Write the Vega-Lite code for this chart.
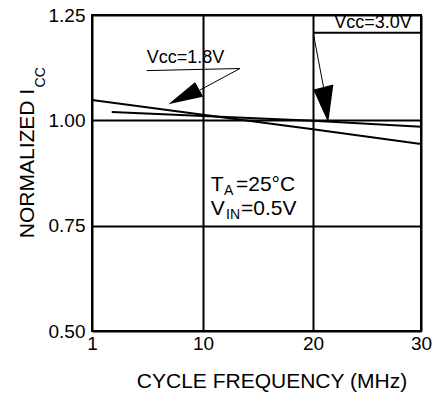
{
  "$schema": "https://vega.github.io/schema/vega-lite/v6.json",
  "width": 329,
  "height": 316,
  "autosize": {"type": "none"},
  "padding": {"left": 92, "top": 15, "right": 16, "bottom": 65},
  "background": "white",
  "config": {
    "font": "Liberation Sans",
    "view": {"stroke": "black", "strokeWidth": 2},
    "axis": {
      "domain": false,
      "ticks": false,
      "grid": true,
      "gridColor": "black",
      "gridWidth": 2,
      "gridOpacity": 1,
      "labelColor": "black",
      "labelFontSize": 19,
      "titleColor": "black",
      "titleFontWeight": "normal"
    }
  },
  "datasets": {
    "curves": [
      {"series": "Vcc=1.8V", "f": 1, "icc": 1.048},
      {"series": "Vcc=1.8V", "f": 10, "icc": 1.013},
      {"series": "Vcc=1.8V", "f": 20, "icc": 0.979},
      {"series": "Vcc=1.8V", "f": 30, "icc": 0.944},
      {"series": "Vcc=3.0V", "f": 2.6, "icc": 1.020},
      {"series": "Vcc=3.0V", "f": 10, "icc": 1.010},
      {"series": "Vcc=3.0V", "f": 20, "icc": 0.999},
      {"series": "Vcc=3.0V", "f": 30, "icc": 0.985}
    ],
    "thin": [
      {"f": 5.43, "icc": 1.118, "f2": 13.36, "icc2": 1.123},
      {"f": 13.36, "icc": 1.123, "f2": 9.76, "icc2": 1.072},
      {"f": 20.06, "icc": 1.2025, "f2": 20.98, "icc2": 1.078}
    ],
    "thick": [
      {"f": 20, "icc": 1.208, "f2": 30, "icc2": 1.208}
    ],
    "heads": [
      {"arrow": "a", "k": 1, "f": 7.27, "icc": 1.0388},
      {"arrow": "a", "k": 2, "f": 9.35, "icc": 1.0893},
      {"arrow": "a", "k": 3, "f": 9.98, "icc": 1.0561},
      {"arrow": "b", "k": 1, "f": 21.42, "icc": 0.9968},
      {"arrow": "b", "k": 2, "f": 20.09, "icc": 1.072},
      {"arrow": "b", "k": 3, "f": 21.88, "icc": 1.0839}
    ],
    "vlabels": [
      {"label": "Vcc=1.8V", "f": 8.58, "icc": 1.1354},
      {"label": "Vcc=3.0V", "f": 25.56, "icc": 1.2184}
    ],
    "tmain": [
      {"t": "T", "f": 10.70, "icc": 0.8323},
      {"t": "=25°C", "f": 13.0, "icc": 0.8323},
      {"t": "V", "f": 10.70, "icc": 0.7754},
      {"t": "=0.5V", "f": 13.45, "icc": 0.7754}
    ],
    "tsub": [
      {"t": "A", "f": 11.91, "icc": 0.8229},
      {"t": "IN", "f": 12.09, "icc": 0.7659}
    ],
    "ysub": [
      {"t": "CC", "f": 1, "icc": 1.102}
    ]
  },
  "encoding": {
    "x": {
      "field": "f",
      "type": "quantitative",
      "scale": {"domain": [1, 10, 20, 30], "range": [0, 111, 221, 329]},
      "axis": {
        "values": [1, 10, 20, 30],
        "labelFlush": false,
        "labelPadding": 3,
        "title": "CYCLE FREQUENCY (MHz)",
        "titleFontSize": 21,
        "titleX": 179.5,
        "titleY": 56,
        "titleBaseline": "alphabetic",
        "titleAlign": "center"
      }
    },
    "y": {
      "field": "icc",
      "type": "quantitative",
      "scale": {"domain": [0.5, 1.25], "nice": false, "zero": false},
      "axis": {
        "values": [0.5, 0.75, 1, 1.25],
        "format": ".2f",
        "labelPadding": 7,
        "title": "NORMALIZED I",
        "titleFontSize": 21,
        "titleAngle": 270,
        "titleX": -59,
        "titleY": 148,
        "titleAlign": "center",
        "titleBaseline": "alphabetic"
      }
    }
  },
  "layer": [
    {
      "data": {"name": "curves"},
      "mark": {"type": "line", "color": "black", "strokeWidth": 2},
      "encoding": {"detail": {"field": "series"}}
    },
    {
      "data": {"name": "thin"},
      "mark": {"type": "rule", "color": "black", "strokeWidth": 1},
      "encoding": {"x2": {"field": "f2"}, "y2": {"field": "icc2"}}
    },
    {
      "data": {"name": "thick"},
      "mark": {"type": "rule", "color": "black", "strokeWidth": 2},
      "encoding": {"x2": {"field": "f2"}, "y2": {"field": "icc2"}}
    },
    {
      "data": {"name": "heads"},
      "mark": {"type": "line", "stroke": "black", "fill": "black", "strokeWidth": 1},
      "encoding": {"detail": {"field": "arrow"}, "order": {"field": "k"}}
    },
    {
      "data": {"name": "vlabels"},
      "mark": {"type": "text", "fontSize": 18, "align": "center", "baseline": "alphabetic", "color": "black"},
      "encoding": {"text": {"field": "label"}}
    },
    {
      "data": {"name": "tmain"},
      "mark": {"type": "text", "fontSize": 21, "align": "left", "baseline": "alphabetic", "color": "black"},
      "encoding": {"text": {"field": "t"}}
    },
    {
      "data": {"name": "tsub"},
      "mark": {"type": "text", "fontSize": 14, "align": "left", "baseline": "alphabetic", "color": "black"},
      "encoding": {"text": {"field": "t"}}
    },
    {
      "data": {"name": "ysub"},
      "mark": {"type": "text", "fontSize": 14, "align": "center", "baseline": "alphabetic", "angle": 270, "dy": -47, "color": "black"},
      "encoding": {"text": {"field": "t"}}
    }
  ]
}
